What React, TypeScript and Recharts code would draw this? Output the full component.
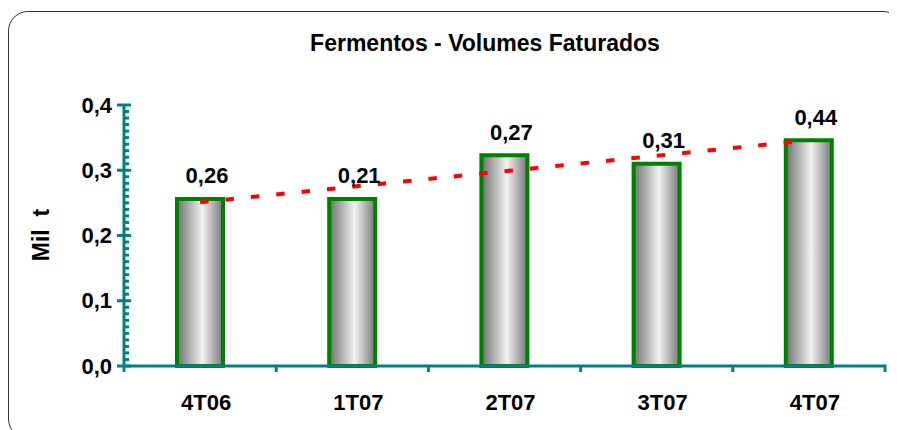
import React from 'react';
import { ComposedChart, Bar, Line, XAxis, YAxis, LabelList } from 'recharts';

const categories = ['4T06', '1T07', '2T07', '3T07', '4T07'];
const volumes = [0.256, 0.256, 0.323, 0.31, 0.346];
const valueLabels = ['0,26', '0,21', '0,27', '0,31', '0,44'];
const trendValues: (number | null)[] = [0.251, null, null, null, 0.346];
const yMajorTicks = [0, 0.1, 0.2, 0.3, 0.4];
const yMajorLabels = ['0,0', '0,1', '0,2', '0,3', '0,4'];

const title = 'Fermentos - Volumes Faturados';
const yTitle = 'Mil  t';

const data = categories.map((c, i) => ({
  category: c,
  volume: volumes[i],
  label: valueLabels[i],
  trend: trendValues[i],
}));

// all ticks (majors + minor every 0.01)
const allTicks: number[] = [];
for (let i = 0; i <= 40; i++) allTicks.push(Math.round(i) / 100);

const W = 889;
const H = 422;
const M = { top: 97, right: 12, bottom: 0, left: 0 };
const Y_W = 116;
const X_H = 64;
const TEAL = '#008080';
const FONT = '"Liberation Sans", Arial, sans-serif';
const PLOT_W = W - M.left - M.right - Y_W;
const HALF_BAND = PLOT_W / categories.length / 2;

const YTick = (props: any) => {
  const { x, y, payload } = props;
  const v = payload.value as number;
  const majIdx = yMajorTicks.findIndex((t) => Math.abs(t - v) < 1e-6);
  if (majIdx >= 0) {
    return (
      <g>
        <line x1={x - 7} x2={x + 7} y1={y} y2={y} stroke={TEAL} strokeWidth={3} />
        <text
          x={x - 12}
          y={y}
          textAnchor="end"
          dominantBaseline="central"
          fontFamily={FONT}
          fontWeight="bold"
          fontSize={22}
          fill="#000"
        >
          {yMajorLabels[majIdx]}
        </text>
      </g>
    );
  }
  return <line x1={x} x2={x + 5} y1={y} y2={y} stroke={TEAL} strokeWidth={3} />;
};

const XTick = (props: any) => {
  const { x, y, payload, index } = props;
  const last = index === categories.length - 1;
  return (
    <g>
      <line x1={x - HALF_BAND} x2={x - HALF_BAND} y1={y} y2={y + 6} stroke={TEAL} strokeWidth={3} />
      {last && (
        <line x1={x + HALF_BAND} x2={x + HALF_BAND} y1={y - 1.5} y2={y + 6} stroke={TEAL} strokeWidth={3} />
      )}
      <text
        x={x + 6}
        y={y + 36}
        textAnchor="middle"
        dominantBaseline="central"
        fontFamily={FONT}
        fontWeight="bold"
        fontSize={22}
        fill="#000"
      >
        {payload.value}
      </text>
    </g>
  );
};

const ValueLabel = (props: any) => {
  const { x, y, width, value } = props;
  return (
    <text
      x={x + width / 2 + 7}
      y={y - 23}
      textAnchor="middle"
      dominantBaseline="central"
      fontFamily={FONT}
      fontWeight="bold"
      fontSize={22}
      fill="#000"
    >
      {value}
    </text>
  );
};

export default function App() {
  return (
    <div style={{ position: 'relative', width: W, height: H, overflow: 'hidden', background: '#fff' }}>
      <div
        style={{
          position: 'absolute',
          left: 0,
          top: 3,
          width: 895,
          height: 428,
          border: '1.5px solid #333',
          borderRadius: 20,
          boxSizing: 'border-box',
        }}
      />
      <div style={{ position: 'absolute', left: 0, top: 0 }}>
        <ComposedChart width={W} height={H} data={data} margin={M}>
          <defs>
            <linearGradient id="barGrad" x1="0" y1="0" x2="1" y2="0">
              <stop offset="0%" stopColor="#6e6e6e" />
              <stop offset="55%" stopColor="#f2f2f2" />
              <stop offset="100%" stopColor="#787878" />
            </linearGradient>
          </defs>
          <XAxis
            dataKey="category"
            height={X_H}
            axisLine={{ stroke: TEAL, strokeWidth: 3 }}
            tickLine={false}
            tickSize={0}
            tickMargin={0}
            tick={<XTick />}
            interval={0}
          />
          <YAxis
            width={Y_W}
            domain={[0, 0.4]}
            ticks={allTicks}
            interval={0}
            axisLine={{ stroke: TEAL, strokeWidth: 3 }}
            tickLine={false}
            tickSize={0}
            tickMargin={0}
            tick={<YTick />}
          />
          <Bar
            dataKey="volume"
            barSize={46}
            fill="url(#barGrad)"
            stroke="#008000"
            strokeWidth={4}
            isAnimationActive={false}
          >
            <LabelList dataKey="label" content={<ValueLabel />} />
          </Bar>
          <Line
            dataKey="trend"
            type="linear"
            stroke="#ff0000"
            strokeWidth={4}
            strokeDasharray="8.5 17"
            dot={false}
            activeDot={false}
            connectNulls
            isAnimationActive={false}
          />
        </ComposedChart>
      </div>
      <svg
        width={W}
        height={H}
        style={{ position: 'absolute', left: 0, top: 0, pointerEvents: 'none' }}
      >
        <text
          x={477}
          y={35}
          textAnchor="middle"
          dominantBaseline="central"
          fontFamily={FONT}
          fontWeight="bold"
          fontSize={23}
          fill="#000"
        >
          {title}
        </text>
        <text
          x={33}
          y={227}
          textAnchor="middle"
          dominantBaseline="central"
          fontFamily={FONT}
          fontWeight="bold"
          fontSize={23}
          fill="#000"
          transform="rotate(-90 33 227)"
          style={{ whiteSpace: 'pre' }}
        >
          {yTitle}
        </text>
      </svg>
    </div>
  );
}
